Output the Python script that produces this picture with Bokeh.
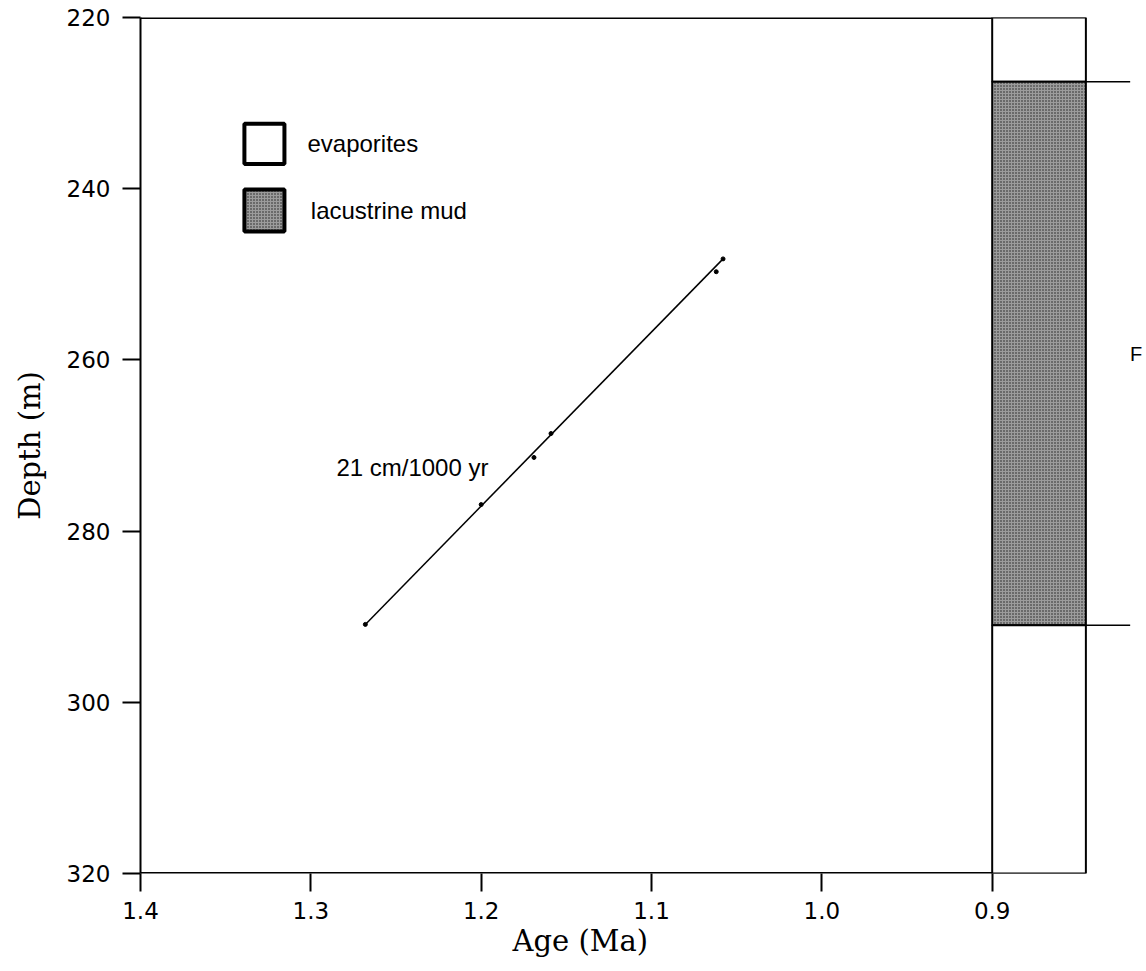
from bokeh.plotting import figure
from bokeh.models import Range1d, FixedTicker, PrintfTickFormatter, Title, ColumnDataSource
from bokeh.core.properties import value
from bokeh.embed import file_html
from bokeh.resources import INLINE

# ---- data ----
point_age = [1.268, 1.200, 1.169, 1.159, 1.062, 1.058]          # Ma
point_depth = [290.9, 276.9, 271.4, 268.6, 249.7, 248.2]       # m
rate_label = "21 cm/1000 yr"

unit_top = [220.0, 227.5, 291.0]
unit_bottom = [227.5, 291.0, 320.0]
unit_type = ["evaporites", "lacustrine mud", "evaporites"]
boundary_depth = [227.5, 291.0]
marker_label = "F"
marker_depth = 259.3

x_ticks = [1.4, 1.3, 1.2, 1.1, 1.0, 0.9]
y_ticks = [220, 240, 260, 280, 300, 320]

legend_names = ["evaporites", "lacustrine mud"]

# ---- layout constants ----
X_LEFT, X_RIGHT = 1.4, 0.81
Y_TOP, Y_BOT = 220, 320
COL_L, COL_R = 0.9, 0.845
EXT_R = 0.819
GRAY = "#9c9c9c"
SANS = "Liberation Sans"

p = figure(width=1146, height=971, output_backend="svg", toolbar_location=None,
           x_range=Range1d(X_LEFT, X_RIGHT), y_range=Range1d(Y_BOT, Y_TOP),
           min_border_left=140, min_border_right=1, min_border_top=17, min_border_bottom=98)
p.outline_line_color = None
p.grid.visible = False
p.background_fill_color = "white"
p.border_fill_color = "white"

for ax in (p.xaxis[0], p.yaxis[0]):
    ax.major_tick_out = 18
    ax.major_tick_in = 0
    ax.minor_tick_line_color = None
    ax.major_tick_line_width = 2
    ax.major_tick_line_color = "black"
    ax.major_label_text_font = "DejaVu Sans"
    ax.major_label_text_font_size = "23px"
    ax.major_label_text_color = "black"

p.xaxis.ticker = FixedTicker(ticks=x_ticks)
p.xaxis.formatter = PrintfTickFormatter(format="%.1f")
p.xaxis.axis_line_color = None
p.xaxis.major_label_standoff = 10

p.yaxis.ticker = FixedTicker(ticks=y_ticks)
p.yaxis.axis_line_width = 2
p.yaxis.axis_line_color = "black"
p.yaxis.major_label_standoff = 12
p.yaxis.axis_label = "Depth (m)"
p.yaxis.axis_label_text_font = "DejaVu Serif"
p.yaxis.axis_label_text_font_size = "29px"
p.yaxis.axis_label_text_font_style = "normal"
p.yaxis.axis_label_text_color = "black"
p.yaxis.axis_label_standoff = 17

# x-axis title, centred under the 1.4-0.9 span
p.add_layout(Title(text="Age (Ma)", align="left", offset=372, standoff=0,
                   text_font="DejaVu Serif", text_font_size="29px",
                   text_font_style="normal", text_color="black"), "below")

# frame lines (top / bottom), limited to the plot + column
p.segment(x0=[X_LEFT, X_LEFT], y0=[Y_TOP, Y_BOT], x1=[COL_R, COL_R], y1=[Y_TOP, Y_BOT],
          line_color="black", line_width=3)

# lithology column
fills = [GRAY if t == "lacustrine mud" else "white" for t in unit_type]
hatches = ["dot" if t == "lacustrine mud" else " " for t in unit_type]
col_src = ColumnDataSource(dict(top=unit_top, bottom=unit_bottom, fill=fills, hatch=hatches,
                                left=[COL_L] * len(unit_top), right=[COL_R] * len(unit_top)))
p.quad(left="left", right="right", top="top", bottom="bottom", source=col_src,
       fill_color="fill", hatch_pattern="hatch", hatch_color="black", hatch_scale=3,
       hatch_alpha=0.8, line_color="black", line_width=2)

# boundary lines extending right of the column
p.segment(x0=[COL_R] * len(boundary_depth), y0=boundary_depth,
          x1=[EXT_R] * len(boundary_depth), y1=boundary_depth,
          line_color="black", line_width=1.5)
p.text(x=[0.8155], y=[marker_depth], text=[marker_label], text_font=value(SANS),
       text_font_size="20px", text_align="center", text_baseline="middle", text_color="black")

# age-depth line and points
p.line(x=[point_age[0], point_age[-1]], y=[point_depth[0], point_depth[-1]],
       line_color="black", line_width=1.5)
p.scatter(x=point_age, y=point_depth, size=4, color="black")
p.text(x=[1.285], y=[272.6], text=[rate_label], text_font=value(SANS), text_font_size="24px",
       text_align="left", text_baseline="middle", text_color="black")

# legend (drawn manually)
leg_fill = ["white", GRAY]
leg_hatch = [" ", "dot"]
leg_src = ColumnDataSource(dict(left=[1.339, 1.339], right=[1.3155, 1.3155],
                                top=[232.4, 240.1], bottom=[237.1, 245.0],
                                fill=leg_fill, hatch=leg_hatch))
p.quad(left="left", right="right", top="top", bottom="bottom", source=leg_src,
       fill_color="fill", hatch_pattern="hatch", hatch_color="black", hatch_scale=3,
       hatch_alpha=0.8, line_color="black", line_width=4)
p.text(x=[1.302, 1.300], y=[234.7, 242.5], text=legend_names, text_font=value(SANS),
       text_font_size="24px", text_align="left", text_baseline="middle", text_color="black")

open("out.html", "w").write(file_html(p, INLINE))
